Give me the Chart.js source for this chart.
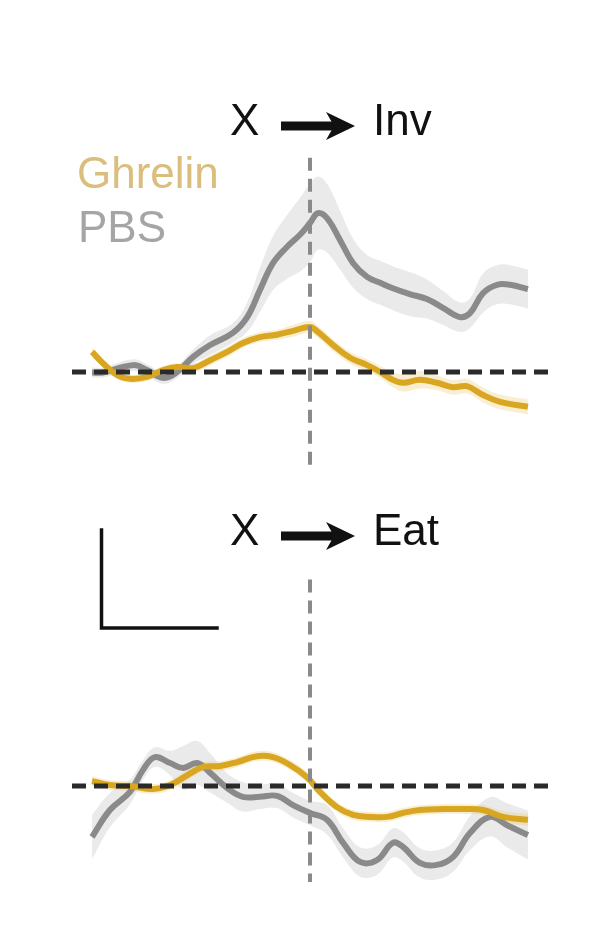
<!DOCTYPE html>
<html lang="en">
<head>
    <meta charset="UTF-8">
    <title>Ghrelin vs PBS - X to Inv / X to Eat</title>
    <script src="https://cdn.jsdelivr.net/npm/chart.js"></script>
    <style>
        body {
            margin: 0;
            background: #ffffff;
            width: 603px;
            height: 949px;
            overflow: hidden;
        }
        canvas {
            position: absolute;
            left: 0;
        }
        #chart-inv { top: 0; }
        #chart-eat { top: 475px; }
    </style>
</head>
<body>
    <canvas id="chart-inv" width="603" height="475"></canvas>
    <canvas id="chart-eat" width="603" height="474"></canvas>

    <script>
        // time (s) relative to the transition
        const invPbsTime = [-5.0, -4.75, -4.06, -3.74, -3.37, -3.05, -2.68, -2.29, -1.77, -1.44, -1.15, -0.85, -0.53, -0.23, 0, 0.18, 0.39, 0.69, 0.99, 1.31, 1.61, 1.90, 2.29, 2.68, 3.05, 3.44, 3.67, 3.97, 4.29, 4.59, 5.0];
        const invPbsMean = [-0.01, -0.01, 0.14, 0.04, -0.12, 0, 0.31, 0.55, 0.80, 1.12, 1.67, 2.22, 2.55, 2.80, 3.04, 3.24, 3.14, 2.69, 2.22, 1.94, 1.82, 1.71, 1.59, 1.49, 1.31, 1.12, 1.20, 1.61, 1.78, 1.78, 1.69];
        const invPbsSem = [0.1, 0.1, 0.12, 0.12, 0.12, 0.12, 0.15, 0.2, 0.2, 0.3, 0.45, 0.55, 0.65, 0.75, 0.8, 0.75, 0.7, 0.6, 0.5, 0.45, 0.45, 0.45, 0.45, 0.4, 0.35, 0.3, 0.3, 0.4, 0.4, 0.4, 0.4];

        const invGhrTime = [-5.0, -4.75, -4.43, -4.13, -3.74, -3.37, -3.05, -2.68, -2.29, -1.90, -1.54, -1.15, -0.76, -0.39, 0, 0.18, 0.53, 0.92, 1.31, 1.61, 1.90, 2.13, 2.52, 2.91, 3.28, 3.60, 3.97, 4.36, 5.0];
        const invGhrMean = [0.41, 0.18, -0.06, -0.14, -0.10, 0.04, 0.10, 0.08, 0.24, 0.41, 0.59, 0.71, 0.76, 0.84, 0.92, 0.82, 0.55, 0.29, 0.14, 0, -0.16, -0.22, -0.16, -0.22, -0.31, -0.29, -0.47, -0.61, -0.71];
        const invGhrSem = [0.08, 0.08, 0.08, 0.08, 0.08, 0.08, 0.08, 0.08, 0.1, 0.1, 0.1, 0.1, 0.1, 0.12, 0.12, 0.12, 0.12, 0.12, 0.12, 0.12, 0.15, 0.18, 0.18, 0.15, 0.15, 0.15, 0.15, 0.15, 0.15];

        const eatPbsTime = [-5.0, -4.59, -4.13, -3.83, -3.56, -3.21, -2.91, -2.59, -2.29, -1.90, -1.54, -1.15, -0.76, -0.39, 0, 0.39, 0.76, 1.15, 1.54, 1.90, 2.13, 2.52, 2.91, 3.28, 3.67, 4.13, 4.52, 5.0];
        const eatPbsMean = [-1.04, -0.49, -0.12, 0.33, 0.59, 0.47, 0.37, 0.47, 0.27, -0.04, -0.22, -0.22, -0.20, -0.39, -0.55, -0.69, -1.16, -1.55, -1.51, -1.16, -1.24, -1.57, -1.61, -1.45, -0.96, -0.63, -0.80, -1.0];
        const eatPbsSem = [0.45, 0.35, 0.25, 0.2, 0.2, 0.25, 0.45, 0.45, 0.4, 0.3, 0.3, 0.25, 0.25, 0.25, 0.25, 0.3, 0.3, 0.3, 0.3, 0.3, 0.3, 0.3, 0.3, 0.3, 0.35, 0.4, 0.45, 0.5];

        const eatGhrTime = [-5.0, -4.59, -4.13, -3.60, -3.21, -2.82, -2.45, -2.06, -1.67, -1.22, -0.85, -0.46, -0.07, 0.23, 0.62, 0.99, 1.38, 1.77, 2.13, 2.52, 3.05, 3.51, 3.97, 4.43, 5.0];
        const eatGhrMean = [0.10, 0.02, 0, -0.06, 0.02, 0.22, 0.39, 0.41, 0.49, 0.61, 0.59, 0.43, 0.18, -0.12, -0.43, -0.59, -0.63, -0.63, -0.55, -0.49, -0.47, -0.47, -0.49, -0.63, -0.69];
        const eatGhrSem = [0.1, 0.1, 0.1, 0.1, 0.1, 0.1, 0.1, 0.1, 0.1, 0.1, 0.1, 0.1, 0.1, 0.1, 0.1, 0.1, 0.1, 0.1, 0.1, 0.1, 0.1, 0.1, 0.1, 0.12, 0.12];

        const seriesNames = ['Ghrelin', 'PBS'];

        const GOLD = '#d9a621';
        const GREY = '#8a8a8a';
        const FONT = '"Liberation Sans", Arial, sans-serif';

        function pts(t, v) {
            return t.map((x, i) => ({ x: x, y: v[i] }));
        }
        function bandPts(t, m, s, sign) {
            return t.map((x, i) => ({ x: x, y: m[i] + sign * s[i] }));
        }

        function buildDatasets(pbsT, pbsM, pbsS, ghrT, ghrM, ghrS, vTop, vBottom) {
            const common = { pointRadius: 0, tension: 0.4, clip: false };
            return [
                // vertical dashed line at t = 0
                { ...common, data: [{ x: 0, y: vTop }, { x: 0, y: vBottom }], borderColor: GREY, borderWidth: 4, borderDash: [13, 8], tension: 0, order: 0 },
                // horizontal dashed baseline
                { ...common, data: [{ x: -5.46, y: 0 }, { x: 5.46, y: 0 }], borderColor: '#2a2a2a', borderWidth: 5, borderDash: [14, 8], tension: 0, order: 0 },
                { ...common, label: seriesNames[0], data: pts(ghrT, ghrM), borderColor: GOLD, borderWidth: 6, order: 1 },
                { ...common, label: seriesNames[1], data: pts(pbsT, pbsM), borderColor: GREY, borderWidth: 6, order: 2 },
                { ...common, data: bandPts(ghrT, ghrM, ghrS, 1), borderWidth: 0, backgroundColor: 'rgba(235, 195, 90, 0.28)', fill: '+1', order: 3 },
                { ...common, data: bandPts(ghrT, ghrM, ghrS, -1), borderWidth: 0, order: 3 },
                { ...common, data: bandPts(pbsT, pbsM, pbsS, 1), borderWidth: 0, backgroundColor: 'rgba(205, 205, 205, 0.42)', fill: '+1', order: 4 },
                { ...common, data: bandPts(pbsT, pbsM, pbsS, -1), borderWidth: 0, order: 4 }
            ];
        }

        // arrow like the one in the figure: thick shaft + notched head
        function drawArrow(ctx, x0, y) {
            ctx.save();
            ctx.fillStyle = '#111';
            ctx.fillRect(x0, y - 4.5, 58, 9);
            ctx.beginPath();
            ctx.moveTo(x0 + 45, y - 14);
            ctx.lineTo(x0 + 74, y);
            ctx.lineTo(x0 + 45, y + 14);
            ctx.lineTo(x0 + 53, y);
            ctx.closePath();
            ctx.fill();
            ctx.restore();
        }

        function titlePlugin(target, baseline, extra) {
            return {
                id: 'labels-' + target,
                afterDraw(chart) {
                    const ctx = chart.ctx;
                    ctx.save();
                    ctx.font = '44px ' + FONT;
                    ctx.textBaseline = 'alphabetic';
                    ctx.fillStyle = '#111';
                    ctx.fillText('X', 230, baseline);
                    ctx.fillText(target, 373, baseline);
                    drawArrow(ctx, 281, baseline - 9);
                    if (extra) extra(ctx);
                    ctx.restore();
                }
            };
        }

        function makeOptions(yMin, yMax, pad) {
            return {
                responsive: false,
                animation: false,
                layout: { padding: pad },
                plugins: { legend: { display: false }, tooltip: { enabled: false } },
                scales: {
                    x: { type: 'linear', min: -5.46, max: 5.46, display: false },
                    y: { min: yMin, max: yMax, display: false }
                }
            };
        }

        // Top panel: X -> Inv
        new Chart(document.getElementById('chart-inv'), {
            type: 'line',
            data: { datasets: buildDatasets(invPbsTime, invPbsMean, invPbsSem, invGhrTime, invGhrMean, invGhrSem, 4.37, -1.94) },
            options: makeOptions(-2, 4.51, { left: 72, right: 55, top: 151, bottom: 5 }),
            plugins: [titlePlugin('Inv', 135, function (ctx) {
                ctx.fillStyle = '#d9be7d';
                ctx.fillText(seriesNames[0], 77, 188);
                ctx.fillStyle = '#a5a5a5';
                ctx.fillText(seriesNames[1], 78, 242);
            })]
        });

        // Bottom panel: X -> Eat, with the scale bar
        new Chart(document.getElementById('chart-eat'), {
            type: 'line',
            data: { datasets: buildDatasets(eatPbsTime, eatPbsMean, eatPbsSem, eatGhrTime, eatGhrMean, eatGhrSem, 4.22, -1.96) },
            options: makeOptions(-1.98, 4.33, { left: 72, right: 55, top: 99, bottom: 66 }),
            plugins: [titlePlugin('Eat', 70, function (ctx) {
                ctx.strokeStyle = '#111';
                ctx.lineWidth = 3.5;
                ctx.lineCap = 'square';
                ctx.beginPath();
                ctx.moveTo(101.5, 55);
                ctx.lineTo(101.5, 153);
                ctx.lineTo(217, 153);
                ctx.stroke();
            })]
        });
    </script>
</body>
</html>
